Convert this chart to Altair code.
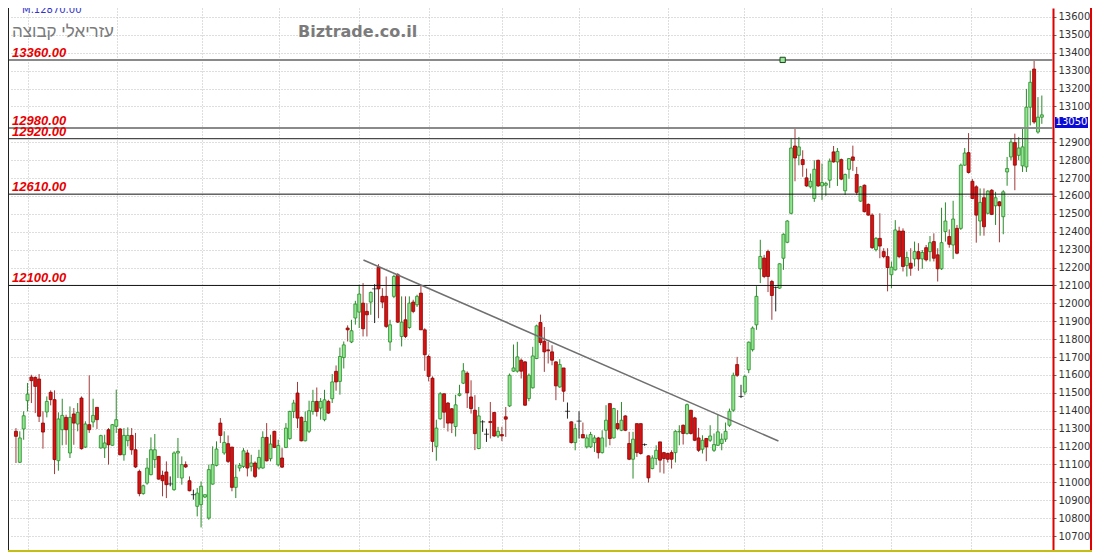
import altair as alt
import pandas as pd

# ---------------- data ----------------
opens = [
    11285, 11112, 11298, 11456, 11588, 11586, 11577, 11331, 11393, 11503,
    11462, 11121, 11294, 11363, 11164, 11382, 11326, 11471, 11197, 11322,
    11337, 11419, 11192, 11192, 11294, 11207, 11313, 11298, 11154, 11233,
    11262, 11182, 11061, 10937, 10996, 11043, 11127, 11145, 11039, 11058,
    10991, 10959, 11164, 11024, 11099, 11009, 10931, 10866, 10875, 10918,
    10800, 10990, 11095, 11331, 11164, 11216, 11197, 10972, 11080,
    11089, 11164, 11089, 11108, 11080, 11080, 11251, 11132, 11285, 11098,
    11136, 11195, 11244, 11396, 11499, 11363, 11232, 11285, 11396, 11452,
    11415, 11350, 11452, 11467, 11620, 11564, 11697, 11862, 11784, 11918,
    11951, 12001, 11955, 12007, 12081, 12201, 12039, 12039, 11784, 12039,
    12160, 11815, 11908, 11865, 12007, 11992, 12057, 11852, 11703, 11582,
    11201, 11355, 11495, 11443, 11411, 11312, 11486, 11554, 11610,
    11477, 11403, 11189, 11338, 11269, 11340, 11390, 11259, 11267, 11366,
    11427, 11621, 11621, 11682, 11673, 11468, 11528, 11692, 11893, 11788,
    11740, 11729, 11673, 11533, 11639, 11397, 11338, 11222, 11342, 11267,
    11198, 11198, 11222, 11248, 11166, 11291, 11440, 11248, 11328, 11291,
    11371, 11217, 11129, 11328, 11328, 11211, 11148, 11077, 11133, 11226,
    11166, 11161, 11166, 11166, 11282, 11319, 11273, 11403, 11360, 11248,
    11185, 11245, 11235, 11179, 11207, 11217, 11241, 11319, 11403, 11658,
    11480, 11504, 11629, 11741, 11880, 12193, 12253, 12290, 12122,
    12089, 12085, 12252, 12341, 12503, 12879, 12827, 12803, 12701, 12651,
    12586, 12799, 12656, 12660, 12688, 12846, 12790, 12803, 12629, 12749,
    12818, 12720, 12571, 12660, 12553, 12493, 12300, 12363, 12289, 12261, 12160, 12187,
    12404, 12404, 12211, 12224, 12248, 12289, 12248, 12311, 12289, 12345,
    12271, 12193, 12401, 12373, 12326, 12419, 12419, 12772, 12842, 12682,
    12651, 12460, 12590, 12503, 12632, 12545, 12567, 12484, 12734, 12818,
    12898, 12827, 12768, 12762, 13096, 13309, 12957, 13040,
]
highs = [
    11303, 11285, 11397, 11555, 11601, 11592, 11605, 11397, 11480, 11514,
    11514, 11391, 11467, 11378, 11424, 11415, 11443, 11480, 11341, 11598,
    11467, 11419, 11266, 11266, 11303, 11326, 11518, 11303, 11303, 11307,
    11303, 11276, 11071, 10987, 11136, 11251, 11270, 11145, 11065, 11117,
    11033, 11173, 11248, 11145, 11117, 11033, 10959, 10968, 11005, 10931,
    11099, 11201, 11229, 11359, 11285, 11262, 11197, 11099, 11108,
    11191, 11182, 11154, 11117, 11182, 11285, 11331, 11266, 11288, 11238,
    11191, 11331, 11400, 11461, 11561, 11368, 11396, 11456, 11517, 11530,
    11471, 11517, 11461, 11605, 11653, 11753, 11787, 11877, 11908, 12014,
    12104, 12113, 12001, 12066, 12107, 12219, 12085, 12150, 11908, 12160,
    12169, 12039, 12039, 12039, 12020, 12048, 12100, 11861, 11713, 11592,
    11350, 11504, 11495, 11448, 11415, 11489, 11545, 11666, 11620,
    11570, 11487, 11421, 11347, 11300, 11449, 11394, 11310, 11310, 11421,
    11608, 11770, 11785, 11692, 11677, 11608, 11757, 11881, 11937, 11868,
    11785, 11766, 11677, 11688, 11639, 11446, 11341, 11328, 11397, 11334,
    11267, 11282, 11263, 11254, 11291, 11431, 11440, 11416, 11403, 11449,
    11375, 11282, 11282, 11328, 11328, 11217, 11151, 11151, 11207, 11226,
    11170, 11166, 11179, 11291, 11319, 11323, 11440, 11403, 11366, 11304,
    11263, 11248, 11319, 11273, 11379, 11273, 11334, 11412, 11613, 11701,
    11545, 11601, 11787, 11871, 12096, 12355, 12271, 12300, 12131,
    12094, 12224, 12391, 12465, 12924, 12979, 12929, 12855, 12753, 12725,
    12799, 12803, 12781, 12679, 12809, 12879, 12868, 12809, 12725, 12812,
    12881, 12762, 12656, 12664, 12558, 12503, 12370, 12503, 12308, 12308, 12233, 12465,
    12428, 12419, 12289, 12308, 12345, 12336, 12298, 12326, 12376, 12391,
    12308, 12534, 12564, 12413, 12573, 12438, 12781, 12868, 12951, 12694,
    12660, 12642, 12642, 12632, 12638, 12623, 12571, 12632, 12818, 12920,
    12948, 12929, 12976, 13198, 13300, 13356, 13152, 13161,
]
lows = [
    11108, 11108, 11238, 11397, 11443, 11387, 11337, 11188, 11363, 11430,
    11046, 11065, 11207, 11210, 11136, 11210, 11285, 11183, 11192, 11276,
    11307, 11298, 11188, 11136, 11099, 11205, 11276, 11151, 11121, 11201,
    11154, 11080, 10922, 10931, 10987, 11039, 11080, 11015, 10922, 10912,
    10978, 10953, 11024, 10987, 11080, 10950, 10903, 10810, 10748, 10912,
    10791, 10987, 11089, 11220, 11154, 11108, 10950, 10912, 11061,
    11080, 11033, 11061, 11024, 11071, 11076, 11117, 11117, 11191, 11089,
    11080, 11191, 11238, 11359, 11303, 11229, 11229, 11275, 11378, 11368,
    11350, 11341, 11382, 11443, 11512, 11490, 11636, 11787, 11778, 11881,
    11862, 11815, 11815, 11936, 11890, 11917, 11973, 11862, 11735, 12029,
    11890, 11759, 11806, 11858, 11945, 11980, 11852, 11623, 11564, 11169,
    11121, 11350, 11303, 11284, 11275, 11256, 11480, 11549, 11415,
    11384, 11180, 11185, 11282, 11226, 11245, 11254, 11248, 11230, 11254,
    11421, 11617, 11613, 11580, 11427, 11453, 11524, 11688, 11766, 11617,
    11664, 11654, 11459, 11528, 11450, 11356, 11217, 11179, 11245, 11248,
    11189, 11192, 11170, 11133, 11161, 11198, 11207, 11245, 11291, 11286,
    11286, 11124, 11021, 11142, 11155, 11204, 10999, 11073, 11096, 11055,
    11049, 11111, 11077, 11111, 11207, 11211, 11267, 11267, 11230, 11170,
    11161, 11118, 11226, 11170, 11204, 11179, 11226, 11310, 11394, 11589,
    11471, 11489, 11610, 11731, 11852, 12113, 12141, 12063, 11908,
    11955, 12081, 12187, 12336, 12497, 12682, 12771, 12707, 12651, 12642,
    12567, 12651, 12577, 12601, 12645, 12786, 12656, 12688, 12605, 12697,
    12740, 12605, 12567, 12508, 12490, 12304, 12290, 12252, 12252, 12067, 12085, 12183,
    12252, 12178, 12150, 12154, 12206, 12182, 12193, 12234, 12234, 12234,
    12122, 12187, 12345, 12311, 12248, 12274, 12410, 12768, 12725, 12582,
    12339, 12378, 12378, 12497, 12493, 12438, 12341, 12386, 12657, 12799,
    12632, 12799, 12734, 12734, 12994, 13003, 12948, 13003,
]
closes = [
    11257, 11248, 11372, 11493, 11568, 11536, 11369, 11281, 11452, 11462,
    11127, 11354, 11374, 11294, 11363, 11331, 11391, 11188, 11326, 11294,
    11374, 11350, 11261, 11220, 11210, 11322, 11350, 11154, 11262, 11262,
    11182, 11086, 10937, 10981, 11080, 11182, 11182, 11018, 11009, 10987,
    10991, 11164, 11173, 11099, 11086, 10953, 10931, 10940, 10978, 10931,
    11071, 11099, 11186, 11262, 11223, 11117, 10972, 11028, 11095,
    11176, 11080, 11108, 11033, 11139, 11251, 11120, 11214, 11195, 11206,
    11085, 11303, 11396, 11443, 11359, 11232, 11340, 11400, 11452, 11396,
    11452, 11461, 11387, 11561, 11561, 11703, 11768, 11852, 11847, 11996,
    12052, 11858, 11936, 12061, 12081, 12081, 12007, 11871, 11880, 12150,
    11895, 11895, 11815, 12001, 11955, 12039, 11852, 11713, 11592, 11229,
    11303, 11495, 11392, 11331, 11331, 11433, 11495, 11623, 11500,
    11412, 11272, 11371, 11338, 11269, 11334, 11259, 11285, 11259, 11353,
    11598, 11639, 11701, 11621, 11431, 11598, 11706, 11874, 11781, 11729,
    11735, 11682, 11539, 11658, 11509, 11397, 11222, 11300, 11342, 11248,
    11248, 11267, 11248, 11166, 11248, 11347, 11245, 11412, 11300, 11347,
    11291, 11129, 11241, 11166, 11161, 11211, 11025, 11136, 11179, 11124,
    11133, 11129, 11129, 11285, 11285, 11273, 11434, 11273, 11235, 11179,
    11235, 11198, 11259, 11211, 11282, 11241, 11285, 11397, 11598, 11598,
    11480, 11592, 11783, 11862, 12039, 12262, 12150, 12150, 12044,
    12089, 12221, 12386, 12460, 12868, 12812, 12874, 12775, 12656, 12682,
    12749, 12656, 12675, 12670, 12794, 12790, 12849, 12694, 12720, 12809,
    12799, 12620, 12651, 12512, 12493, 12311, 12363, 12320, 12261, 12200, 12202, 12410,
    12261, 12206, 12256, 12196, 12289, 12248, 12284, 12243, 12339, 12252,
    12193, 12339, 12460, 12330, 12471, 12280, 12772, 12840, 12731, 12586,
    12493, 12564, 12428, 12627, 12497, 12590, 12545, 12623, 12753, 12901,
    12772, 12868, 12874, 13096, 13235, 13013, 13040, 13053,
]

# month boundaries (candle positions of the vertical grid)
month_starts = [4.1, 27.1, 49.3, 69.1, 90.0, 108.0, 127.1, 147.1, 170.0, 189.9, 209.9, 228.0, 248.7]

# right axis tick labels
price_ticks = [10700, 10800, 10900, 11000, 11100, 11200, 11300, 11400, 11500, 11600,
               11700, 11800, 11900, 12000, 12100, 12200, 12300, 12400, 12500, 12600,
               12700, 12800, 12900, 13100, 13200, 13300, 13400, 13500, 13600]

# horizontal levels
level_prices = [13360, 12980, 12920, 12610, 12100]
level_labels = ["13360.00", "12980.00", "12920.00", "12610.00", "12100.00"]

# trend line
trend_idx = [91.1, 198.7]
trend_price = [12242, 11231]

# marker and last price label
marker_idx = [199.8]
marker_price = [13360]
last_price = [13050]

# ---------------- chart ----------------
df = pd.DataFrame({"idx": list(range(1, len(opens) + 1)),
                   "open": opens, "high": highs, "low": lows, "close": closes})

xs = alt.Scale(domain=[0.49, 268.6], nice=False, zero=False)
ys = alt.Scale(domain=[10622, 13650], nice=False, zero=False)

OLIVE = "#c4bd14"

y_axis = alt.Axis(orient="right", values=price_ticks, format="d", title=None,
                  labelFont="DejaVu Sans", labelFontSize=10, labelColor="#333333",
                  tickSize=3, tickColor="#666666", labelPadding=2,
                  domainColor="#e00000", domainWidth=2,
                  grid=True, gridColor="#bdbdbd", gridDash=[1, 2], gridWidth=1)
x_axis = alt.Axis(values=month_starts, grid=True, labels=False, ticks=False, domain=False,
                  title=None, gridColor="#bdbdbd", gridDash=[1, 2], gridWidth=1)


def X(field):
    return alt.X(field, scale=xs, axis=x_axis)


def Y(field):
    return alt.Y(field, scale=ys, axis=y_axis)


base = alt.Chart(df).transform_calculate(
    dir="datum.close > datum.open ? 'up' : (datum.close < datum.open ? 'down' : 'flat')"
)

wicks = base.mark_rule(strokeWidth=1).encode(
    x=X("idx:Q"), y=Y("low:Q"), y2="high:Q",
    color=alt.Color("dir:N", scale=alt.Scale(domain=["up", "down", "flat"],
                                             range=["#2a8a2a", "#a23a3a", "#222222"]), legend=None),
)

bodies = base.transform_filter("datum.close != datum.open").mark_bar(size=3, strokeWidth=0.8).encode(
    x=X("idx:Q"), y=Y("open:Q"), y2="close:Q",
    fill=alt.Fill("dir:N", scale=alt.Scale(domain=["up", "down"], range=["#8fe68f", "#d81212"]), legend=None),
    stroke=alt.Stroke("dir:N", scale=alt.Scale(domain=["up", "down"], range=["#2a8a2a", "#8b0000"]), legend=None),
)

dojis = base.transform_filter("datum.close == datum.open").mark_tick(
    orient="horizontal", size=5, thickness=1, color="#111111").encode(
    x=X("idx:Q"), y=Y("close:Q"),
)

levels_df = pd.DataFrame({"price": level_prices, "label": level_labels})
lv = alt.Chart(levels_df)
rule_gray = lv.transform_filter("datum.price == 13360 || datum.price == 12980").mark_rule(
    color="#8a8a8a", strokeWidth=2).encode(y=Y("price:Q"))
rule_dark = lv.transform_filter("datum.price == 12920").mark_rule(
    color="#4a4a4a", strokeWidth=1.2).encode(y=Y("price:Q"))
rule_black = lv.transform_filter("datum.price == 12610 || datum.price == 12100").mark_rule(
    color="#111111", strokeWidth=1).encode(y=Y("price:Q"))
level_text = lv.mark_text(align="left", baseline="alphabetic", dy=-3, font="Liberation Sans",
                          fontSize=13, fontWeight="bold", fontStyle="italic", color="#e80000").encode(
    x=alt.value(3), y=Y("price:Q"), text="label:N")

trend = alt.Chart(pd.DataFrame({"idx": trend_idx, "price": trend_price})).mark_line(
    color="#707070", strokeWidth=1.5).encode(x=X("idx:Q"), y=Y("price:Q"))

marker = alt.Chart(pd.DataFrame({"idx": marker_idx, "price": marker_price})).mark_square(
    size=28, filled=True, fill="#9be49b", stroke="#1d4a1d", strokeWidth=1, opacity=1).encode(
    x=X("idx:Q"), y=Y("price:Q"))

lp = alt.Chart(pd.DataFrame({"price": last_price}))
last_box = lp.mark_rect(color="#0b0bd6", yOffset=1.5, y2Offset=12.5).encode(
    x=alt.value(1046), x2=alt.value(1079), y=Y("price:Q"), y2="price:Q")
last_txt = lp.mark_text(align="center", baseline="middle", dy=7, font="DejaVu Sans",
                        fontSize=10, color="white").encode(
    x=alt.value(1062.5), y=Y("price:Q"), text=alt.Text("price:Q", format="d"))

one = alt.Chart(pd.DataFrame({"k": [0]}))
right_red = one.mark_rule(color="#e00000", strokeWidth=2).encode(
    x=alt.value(1082), y=alt.value(0), y2=alt.value(542))
left_line = one.mark_rule(color="#202020", strokeWidth=1).encode(
    x=alt.value(-0.5), y=alt.value(0), y2=alt.value(542))
olive_bottom = one.mark_rect(color=OLIVE).encode(
    x=alt.value(-1), x2=alt.value(1084), y=alt.value(542), y2=alt.value(546))

title_m = one.mark_text(align="left", baseline="middle", font="DejaVu Sans", fontSize=10,
                        color="#3333cc", text="M.12870.00").encode(x=alt.value(13), y=alt.value(2))
title_he = one.mark_text(align="left", baseline="middle", font="Liberation Sans", fontSize=17,
                         color="#7b7b7b", text="עזריאלי קבוצה").encode(x=alt.value(3), y=alt.value(24))
title_site = one.mark_text(align="left", baseline="middle", font="DejaVu Sans", fontSize=16,
                           fontWeight="bold", color="#7b7b7b", text="Biztrade.co.il").encode(
    x=alt.value(289), y=alt.value(24))

chart = alt.layer(
    wicks, bodies, dojis, rule_gray, rule_dark, rule_black, trend, marker,
    level_text, title_m, title_he, title_site,
    right_red, left_line, olive_bottom, last_box, last_txt,
).properties(
    width=1044, height=542,
    padding={"left": 1, "top": 0, "right": 39, "bottom": 2},
    autosize=alt.AutoSizeParams(type="none"),
    background="white",
).configure_view(stroke=None, fill="white")

chart.save("out.html", embed_options={"renderer": "svg", "actions": False})
